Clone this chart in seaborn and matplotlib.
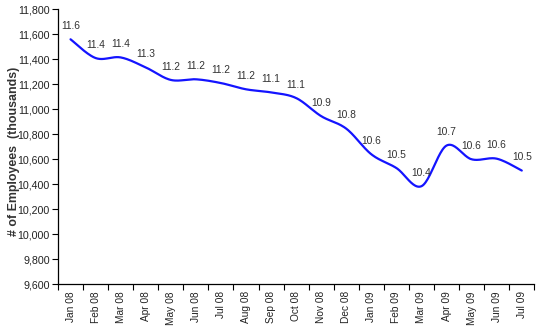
import numpy as np
import pandas as pd
import matplotlib
matplotlib.use("Agg")
import matplotlib.pyplot as plt
import seaborn as sns

# Monthly employment, thousands of employees
months = ["Jan 08", "Feb 08", "Mar 08", "Apr 08", "May 08", "Jun 08", "Jul 08",
          "Aug 08", "Sep 08", "Oct 08", "Nov 08", "Dec 08", "Jan 09", "Feb 09",
          "Mar 09", "Apr 09", "May 09", "Jun 09", "Jul 09"]
employees = [11560, 11410, 11415, 11335, 11235, 11240, 11210,
             11160, 11135, 11090, 10945, 10845, 10640, 10530,
             10385, 10710, 10600, 10605, 10510]
y_ticks = list(range(9600, 11801, 200))

sns.set_style("white")
plt.rcParams["font.family"] = ["Liberation Sans", "DejaVu Sans"]

df = pd.DataFrame({"month": months, "employees": employees})
df["pos"] = np.arange(len(df))


def smooth_curve(x, y, steps=24):
    """Smoothed line through every point (cubic Bezier, Catmull-Rom handles)."""
    x = np.asarray(x, float)
    y = np.asarray(y, float)
    n = len(x)
    px, py = [], []
    for i in range(n - 1):
        i0 = max(i - 1, 0)
        i3 = min(i + 2, n - 1)
        c1x = x[i] + (x[i + 1] - x[i0]) / 6
        c1y = y[i] + (y[i + 1] - y[i0]) / 6
        c2x = x[i + 1] - (x[i3] - x[i]) / 6
        c2y = y[i + 1] - (y[i3] - y[i]) / 6
        t = np.linspace(0, 1, steps, endpoint=(i == n - 2))
        a, b, c, d = (1 - t) ** 3, 3 * (1 - t) ** 2 * t, 3 * (1 - t) * t ** 2, t ** 3
        px.extend(a * x[i] + b * c1x + c * c2x + d * x[i + 1])
        py.extend(a * y[i] + b * c1y + c * c2y + d * y[i + 1])
    return pd.DataFrame({"pos": px, "employees": py})


curve = smooth_curve(df["pos"], df["employees"])

fig = plt.figure(figsize=(5.38, 3.31), dpi=100)
ax = fig.add_axes([58 / 538, 1 - 284.3 / 331, (534.3 - 58) / 538, (284.3 - 9.3) / 331])

sns.lineplot(data=curve, x="pos", y="employees", sort=False, estimator=None,
             color="#1414FF", linewidth=1.6, ax=ax)

# value labels in millions above each month
for xi, v in zip(df["pos"], df["employees"]):
    ax.annotate(f"{v / 1000:.1f}", (xi, v), xytext=(0, 9.5), textcoords="offset points",
                ha="center", va="center", fontsize=7.4, color="#333333")

ax.set_xlim(-0.5, len(months) - 0.5)
ax.set_ylim(9600, 11800)
ax.set_yticks(y_ticks)
ax.set_yticklabels([f"{t:,}" for t in y_ticks])

# tick marks on month boundaries, labels at month centres
ax.set_xticks(np.arange(len(months) + 1) - 0.5)
ax.set_xticklabels([])
ax.set_xticks(df["pos"], minor=True)
ax.set_xticklabels(months, minor=True, rotation=90)
ax.tick_params(axis="x", which="major", direction="out", length=4, width=0.8,
               color="black", bottom=True)
ax.tick_params(axis="x", which="minor", length=0, pad=5, labelsize=7.3,
               labelcolor="#222222")
ax.tick_params(axis="y", direction="out", length=4, width=0.8, color="black",
               left=True, labelsize=7.7, labelcolor="#222222", pad=2)

for side in ("top", "right"):
    ax.spines[side].set_visible(False)
for side in ("left", "bottom"):
    ax.spines[side].set_color("black")
    ax.spines[side].set_linewidth(0.9)

ax.set_xlabel("")
ax.set_ylabel("# of Employees  (thousands)", fontsize=8.9, fontweight="bold",
              color="#333333")
ax.yaxis.set_label_coords(-0.079, 0.485)

fig.savefig("out.png", dpi=100, facecolor="white")
